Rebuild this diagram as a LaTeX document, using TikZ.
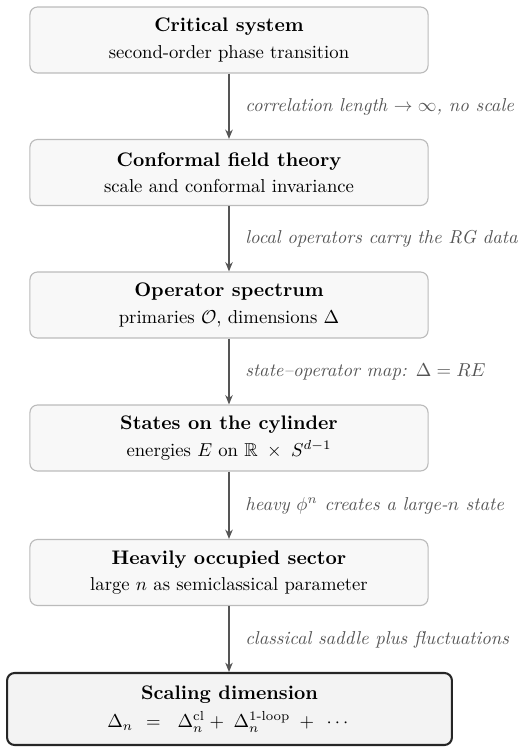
\documentclass[tikz,border=0pt]{standalone}
\usepackage{amsmath,amssymb}
\usetikzlibrary{arrows.meta}
\definecolor{boxfill}{HTML}{F8F8F8}
\definecolor{boxline}{HTML}{BBBBBB}
\definecolor{finalfill}{HTML}{F3F3F3}
\definecolor{arrowcol}{HTML}{555555}
\definecolor{labelcol}{HTML}{555555}
\newcommand{\boxtitle}[1]{{\fontsize{10.5pt}{12.5pt}\selectfont\bfseries #1}}
\begin{document}
\begin{tikzpicture}[x=0.535pt,y=-0.535pt,
  stagebox/.style={draw=boxline, fill=boxfill, rounded corners=4pt, line width=0.6pt,
    minimum width=213pt, minimum height=35.3pt, align=center, inner sep=2pt},
  finalbox/.style={draw=black!85, fill=finalfill, rounded corners=4pt, line width=1.1pt,
    minimum width=238pt, minimum height=38.5pt, align=center, inner sep=2pt},
  flow/.style={draw=arrowcol, line width=0.7pt, -{Stealth[length=5pt,width=4pt]}},
  steplabel/.style={anchor=west, text=labelcol, font=\itshape, inner sep=0pt}
]
\useasboundingbox (0,0) rectangle (520,752);
\node[stagebox] (b1) at (229,40) {\boxtitle{Critical system}\\[2pt] second-order phase transition};
\node[stagebox] (b2) at (229,172.5) {\boxtitle{Conformal field theory}\\[2pt] scale and conformal invariance};
\node[stagebox] (b3) at (229,305) {\boxtitle{Operator spectrum}\\[2pt] primaries $\mathcal{O}$, dimensions $\Delta$};
\node[stagebox] (b4) at (229,438) {\boxtitle{States on the cylinder}\\[2pt] energies $E$ on $\mathbb{R}\;\times\;S^{d-1}$};
\node[stagebox] (b5) at (229,572.5) {\boxtitle{Heavily occupied sector}\\[2pt] large $n$ as semiclassical parameter};
\node[finalbox] (b6) at (229.5,709) {\boxtitle{Scaling dimension}\\[3pt] $\Delta_n\hspace{7pt}{=}\hspace{9pt}\Delta_n^{\mathrm{cl}}\hspace{2.5pt}{+}\hspace{5pt}\Delta_n^{\text{1-loop}}\hspace{5pt}{+}\hspace{5pt}\cdots$};
\draw[flow] (b1) -- (b2);
\draw[flow] (b2) -- (b3);
\draw[flow] (b3) -- (b4);
\draw[flow] (b4) -- (b5);
\draw[flow] (b5.south) -- (b6.north -| b5.south);
\node[steplabel] (l1) at (245,107) {correlation length $\to\infty$, no scale};
\node[steplabel] (l2) at (245,239) {local operators carry the RG data};
\node[steplabel] (l3) at (245,371.5) {state--operator map: $\Delta = RE$};
\node[steplabel] (l4) at (245,505.5) {heavy $\phi^n$ creates a large-$n$ state};
\node[steplabel] (l5) at (245,639.5) {classical saddle plus fluctuations};
\end{tikzpicture}
\end{document}
